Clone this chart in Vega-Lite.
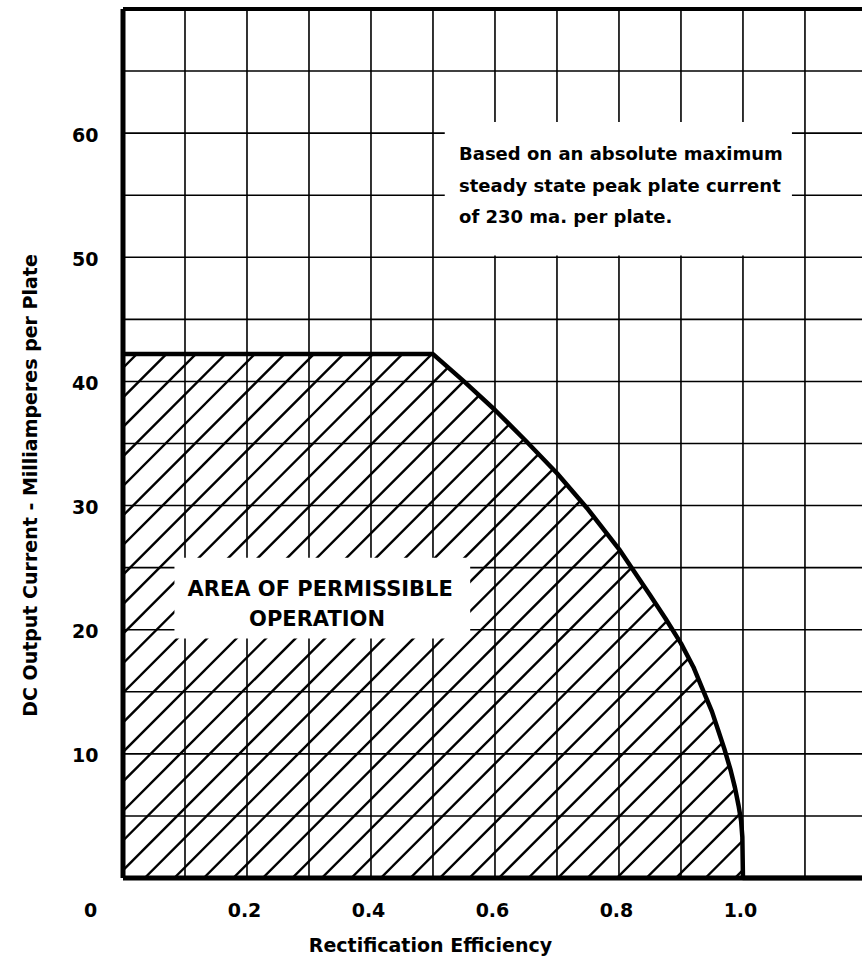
{
  "$schema": "https://vega.github.io/schema/vega-lite/v6.json",
  "width": 739,
  "height": 869,
  "autosize": {"type": "none"},
  "padding": {"left": 123, "top": 9, "right": 0, "bottom": 95},
  "background": "white",
  "config": {
    "view": {"stroke": null},
    "font": "DejaVu Sans",
    "axis": {"grid": false, "ticks": false, "domain": false},
    "text": {"font": "DejaVu Sans", "fontWeight": "bold", "color": "black"}
  },
  "datasets": {
    "hatch": [
      {"x": -0.8694, "y": 0, "x2": 0.1306, "y2": 50},
      {"x": -0.8218, "y": 0, "x2": 0.1782, "y2": 50},
      {"x": -0.7742, "y": 0, "x2": 0.2258, "y2": 50},
      {"x": -0.7266, "y": 0, "x2": 0.2734, "y2": 50},
      {"x": -0.679, "y": 0, "x2": 0.321, "y2": 50},
      {"x": -0.6314, "y": 0, "x2": 0.3686, "y2": 50},
      {"x": -0.5838, "y": 0, "x2": 0.4162, "y2": 50},
      {"x": -0.5362, "y": 0, "x2": 0.4638, "y2": 50},
      {"x": -0.4886, "y": 0, "x2": 0.5114, "y2": 50},
      {"x": -0.441, "y": 0, "x2": 0.559, "y2": 50},
      {"x": -0.3934, "y": 0, "x2": 0.6066, "y2": 50},
      {"x": -0.3458, "y": 0, "x2": 0.6542, "y2": 50},
      {"x": -0.2982, "y": 0, "x2": 0.7018, "y2": 50},
      {"x": -0.2506, "y": 0, "x2": 0.7494, "y2": 50},
      {"x": -0.203, "y": 0, "x2": 0.797, "y2": 50},
      {"x": -0.1554, "y": 0, "x2": 0.8446, "y2": 50},
      {"x": -0.1078, "y": 0, "x2": 0.8922, "y2": 50},
      {"x": -0.0602, "y": 0, "x2": 0.9398, "y2": 50},
      {"x": -0.0126, "y": 0, "x2": 0.9874, "y2": 50},
      {"x": 0.035, "y": 0, "x2": 1.035, "y2": 50},
      {"x": 0.0826, "y": 0, "x2": 1.0826, "y2": 50},
      {"x": 0.1302, "y": 0, "x2": 1.1302, "y2": 50},
      {"x": 0.1778, "y": 0, "x2": 1.1778, "y2": 50},
      {"x": 0.2254, "y": 0, "x2": 1.2254, "y2": 50},
      {"x": 0.273, "y": 0, "x2": 1.273, "y2": 50},
      {"x": 0.3206, "y": 0, "x2": 1.3206, "y2": 50},
      {"x": 0.3682, "y": 0, "x2": 1.3682, "y2": 50},
      {"x": 0.4158, "y": 0, "x2": 1.4158, "y2": 50},
      {"x": 0.4634, "y": 0, "x2": 1.4634, "y2": 50},
      {"x": 0.511, "y": 0, "x2": 1.511, "y2": 50},
      {"x": 0.5586, "y": 0, "x2": 1.5586, "y2": 50},
      {"x": 0.6062, "y": 0, "x2": 1.6062, "y2": 50},
      {"x": 0.6538, "y": 0, "x2": 1.6538, "y2": 50},
      {"x": 0.7014, "y": 0, "x2": 1.7014, "y2": 50},
      {"x": 0.749, "y": 0, "x2": 1.749, "y2": 50},
      {"x": 0.7966, "y": 0, "x2": 1.7966, "y2": 50},
      {"x": 0.8442, "y": 0, "x2": 1.8442, "y2": 50},
      {"x": 0.8918, "y": 0, "x2": 1.8918, "y2": 50},
      {"x": 0.9394, "y": 0, "x2": 1.9394, "y2": 50},
      {"x": 0.987, "y": 0, "x2": 1.987, "y2": 50}
    ],
    "boundary": [
      {"x": 0, "y": 42.2},
      {"x": 0.25, "y": 42.2},
      {"x": 0.5, "y": 42.2},
      {"x": 0.55, "y": 40.0},
      {"x": 0.6, "y": 37.7},
      {"x": 0.65, "y": 35.2},
      {"x": 0.7, "y": 32.6},
      {"x": 0.75, "y": 29.7},
      {"x": 0.8, "y": 26.5},
      {"x": 0.85, "y": 22.8},
      {"x": 0.875, "y": 20.9},
      {"x": 0.9, "y": 18.9},
      {"x": 0.92, "y": 17.0},
      {"x": 0.935, "y": 15.2},
      {"x": 0.95, "y": 13.4},
      {"x": 0.96, "y": 11.9},
      {"x": 0.97, "y": 10.4},
      {"x": 0.98, "y": 8.7},
      {"x": 0.987, "y": 7.3},
      {"x": 0.993, "y": 5.8},
      {"x": 0.997, "y": 4.6},
      {"x": 0.999, "y": 3.3},
      {"x": 1.0, "y": 0},
      {"x": 1.1, "y": 0},
      {"x": 1.192, "y": 0}
    ],
    "vgrid": [
      {"g": 0.1}, {"g": 0.2}, {"g": 0.3}, {"g": 0.4}, {"g": 0.5}, {"g": 0.6},
      {"g": 0.7}, {"g": 0.8}, {"g": 0.9}, {"g": 1.0}, {"g": 1.1}
    ],
    "hgrid": [
      {"g": 5}, {"g": 10}, {"g": 15}, {"g": 20}, {"g": 25}, {"g": 30}, {"g": 35},
      {"g": 40}, {"g": 45}, {"g": 50}, {"g": 55}, {"g": 60}, {"g": 65}
    ],
    "boxes": [
      {"x": 0.083, "x2": 0.56, "y": 19.3, "y2": 25.8},
      {"x": 0.519, "x2": 1.079, "y": 50.15, "y2": 60.9}
    ],
    "areaLabel": [
      {"x": 0.318, "y": 23.2, "t": "AREA OF PERMISSIBLE"},
      {"x": 0.313, "y": 20.8, "t": "OPERATION"}
    ],
    "note": [
      {"x": 0.542, "y": 58.26, "t": "Based on an absolute maximum"},
      {"x": 0.542, "y": 55.68, "t": "steady state peak plate current"},
      {"x": 0.542, "y": 53.18, "t": "of 230 ma. per plate."}
    ]
  },
  "layer": [
    {
      "data": {"name": "hatch"},
      "mark": {"type": "rule", "color": "black", "strokeWidth": 2.4, "clip": true},
      "encoding": {
        "x": {
          "field": "x", "type": "quantitative",
          "scale": {"domain": [0, 1.192], "nice": false, "zero": false},
          "axis": {
            "values": [0, 0.2, 0.4, 0.6, 0.8, 1.0],
            "labelExpr": "datum.value == 0 ? '0' : format(datum.value, '.1f')",
            "labelOffset": {"condition": {"test": "datum.value == 0", "value": -33}, "value": -3},
            "labelFlush": false,
            "labelOverlap": false,
            "labelBound": false,
            "labelFont": "DejaVu Sans",
            "labelFontSize": 19,
            "labelFontWeight": "bold",
            "labelColor": "black",
            "labelPadding": 23,
            "ticks": false,
            "domain": false,
            "grid": false,
            "title": "Rectification Efficiency",
            "titleFont": "DejaVu Sans",
            "titleFontSize": 19,
            "titleFontWeight": "bold",
            "titleColor": "black",
            "titleX": 307,
            "titleY": 67,
            "titleAlign": "center",
            "titleBaseline": "middle"
          }
        },
        "x2": {"field": "x2"},
        "y": {
          "field": "y", "type": "quantitative",
          "scale": {"domain": [0, 70], "nice": false, "zero": false},
          "axis": {
            "values": [10, 20, 30, 40, 50, 60],
            "labelFont": "DejaVu Sans",
            "labelFontSize": 19,
            "labelFontWeight": "bold",
            "labelColor": "black",
            "labelPadding": 25,
            "labelOffset": 2,
            "ticks": false,
            "domain": false,
            "grid": false,
            "title": "DC Output Current - Milliamperes per Plate",
            "titleFont": "DejaVu Sans",
            "titleFontSize": 19,
            "titleFontWeight": "bold",
            "titleColor": "black",
            "titleAngle": -90,
            "titleX": -93,
            "titleY": 476,
            "titleAlign": "center",
            "titleBaseline": "middle"
          }
        },
        "y2": {"field": "y2"}
      }
    },
    {
      "data": {"name": "boundary"},
      "mark": {"type": "area", "fill": "white", "clip": true},
      "encoding": {
        "x": {"field": "x", "type": "quantitative", "scale": {"domain": [0, 1.192], "nice": false, "zero": false}},
        "y": {"field": "y", "type": "quantitative", "scale": {"domain": [0, 70], "nice": false, "zero": false}},
        "y2": {"datum": 70}
      }
    },
    {
      "data": {"name": "vgrid"},
      "mark": {"type": "rule", "color": "black", "strokeWidth": 1.6},
      "encoding": {
        "x": {"field": "g", "type": "quantitative", "scale": {"domain": [0, 1.192], "nice": false, "zero": false}}
      }
    },
    {
      "data": {"name": "hgrid"},
      "mark": {"type": "rule", "color": "black", "strokeWidth": 1.6},
      "encoding": {
        "y": {"field": "g", "type": "quantitative", "scale": {"domain": [0, 70], "nice": false, "zero": false}}
      }
    },
    {
      "data": {"name": "boxes"},
      "mark": {"type": "rect", "fill": "white", "stroke": null},
      "encoding": {
        "x": {"field": "x", "type": "quantitative", "scale": {"domain": [0, 1.192], "nice": false, "zero": false}},
        "x2": {"field": "x2"},
        "y": {"field": "y", "type": "quantitative", "scale": {"domain": [0, 70], "nice": false, "zero": false}},
        "y2": {"field": "y2"}
      }
    },
    {
      "data": {"name": "boundary"},
      "mark": {"type": "line", "color": "black", "strokeWidth": 4.5, "strokeJoin": "round", "clip": false},
      "encoding": {
        "x": {"field": "x", "type": "quantitative", "scale": {"domain": [0, 1.192], "nice": false, "zero": false}},
        "y": {"field": "y", "type": "quantitative", "scale": {"domain": [0, 70], "nice": false, "zero": false}}
      }
    },
    {
      "data": {"values": [{"b": 70}]},
      "mark": {"type": "rule", "color": "black", "strokeWidth": 3.8, "clip": false},
      "encoding": {
        "y": {"field": "b", "type": "quantitative", "scale": {"domain": [0, 70], "nice": false, "zero": false}}
      }
    },
    {
      "data": {"values": [{"b": 0}]},
      "mark": {"type": "rule", "color": "black", "strokeWidth": 5, "clip": false},
      "encoding": {
        "y": {"field": "b", "type": "quantitative", "scale": {"domain": [0, 70], "nice": false, "zero": false}}
      }
    },
    {
      "data": {"values": [{"b": 0}]},
      "mark": {"type": "rule", "color": "black", "strokeWidth": 5, "clip": false},
      "encoding": {
        "x": {"field": "b", "type": "quantitative", "scale": {"domain": [0, 1.192], "nice": false, "zero": false}}
      }
    },
    {
      "data": {"name": "areaLabel"},
      "mark": {"type": "text", "fontSize": 21, "fontWeight": "bold", "align": "center", "baseline": "middle", "color": "black"},
      "encoding": {
        "x": {"field": "x", "type": "quantitative", "scale": {"domain": [0, 1.192], "nice": false, "zero": false}},
        "y": {"field": "y", "type": "quantitative", "scale": {"domain": [0, 70], "nice": false, "zero": false}},
        "text": {"field": "t"}
      }
    },
    {
      "data": {"name": "note"},
      "mark": {"type": "text", "fontSize": 18, "fontWeight": "bold", "align": "left", "baseline": "middle", "color": "black"},
      "encoding": {
        "x": {"field": "x", "type": "quantitative", "scale": {"domain": [0, 1.192], "nice": false, "zero": false}},
        "y": {"field": "y", "type": "quantitative", "scale": {"domain": [0, 70], "nice": false, "zero": false}},
        "text": {"field": "t"}
      }
    }
  ]
}
